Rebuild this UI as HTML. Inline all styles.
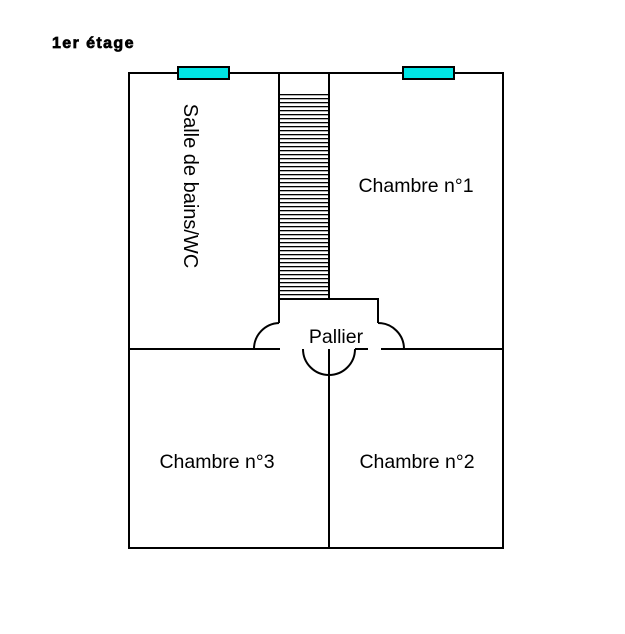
<!DOCTYPE html>
<html><head><meta charset="utf-8"><style>
html,body{margin:0;padding:0;background:#fff;width:625px;height:634px;overflow:hidden}
</style></head><body>
<svg width="625" height="634" xmlns="http://www.w3.org/2000/svg" style="display:block">
<defs>
<pattern id="st" x="0" y="94" width="50" height="4" patternUnits="userSpaceOnUse">
<rect x="0" y="0" width="50" height="1.3" fill="#000"/>
</pattern>
</defs>
<text x="52" y="48" font-family="Liberation Sans, sans-serif" font-weight="bold" font-size="16" letter-spacing="1.4" stroke="#000" stroke-width="0.7">1er étage</text>
<g stroke="#000" stroke-width="2" fill="none">
<polyline points="129,349 129,73 503,73 503,548 129,548 129,349"/>
<rect x="279" y="73" width="50" height="226"/>
<polyline points="329,299 378,299 378,323"/>
<line x1="279" y1="299" x2="279" y2="323"/>
<path d="M279,323 A26,26 0 0 0 254,349"/>
<path d="M378,323 A26,26 0 0 1 404,349"/>
<line x1="129" y1="349" x2="280" y2="349"/>
<line x1="381" y1="349" x2="503" y2="349"/>
<path d="M303,349 A26,26 0 0 0 355,349"/>
<line x1="329" y1="349" x2="329" y2="548"/>
<line x1="355" y1="349" x2="368" y2="349"/>
</g>
<rect x="280" y="94" width="48" height="205" fill="url(#st)"/>
<rect x="178" y="67" width="51" height="12" fill="#00e5e5" stroke="#000" stroke-width="2"/>
<rect x="403" y="67" width="51" height="12" fill="#00e5e5" stroke="#000" stroke-width="2"/>
<g font-family="Liberation Sans, sans-serif" font-size="19.5" fill="#000">
<text x="416" y="192" text-anchor="middle">Chambre n°1</text>
<text x="336" y="343" text-anchor="middle">Pallier</text>
<text x="217" y="468" text-anchor="middle">Chambre n°3</text>
<text x="417" y="468" text-anchor="middle">Chambre n°2</text>
<text transform="translate(184,186) rotate(90)" text-anchor="middle" font-size="20">Salle de bains/WC</text>
</g>
</svg>
</body></html>
